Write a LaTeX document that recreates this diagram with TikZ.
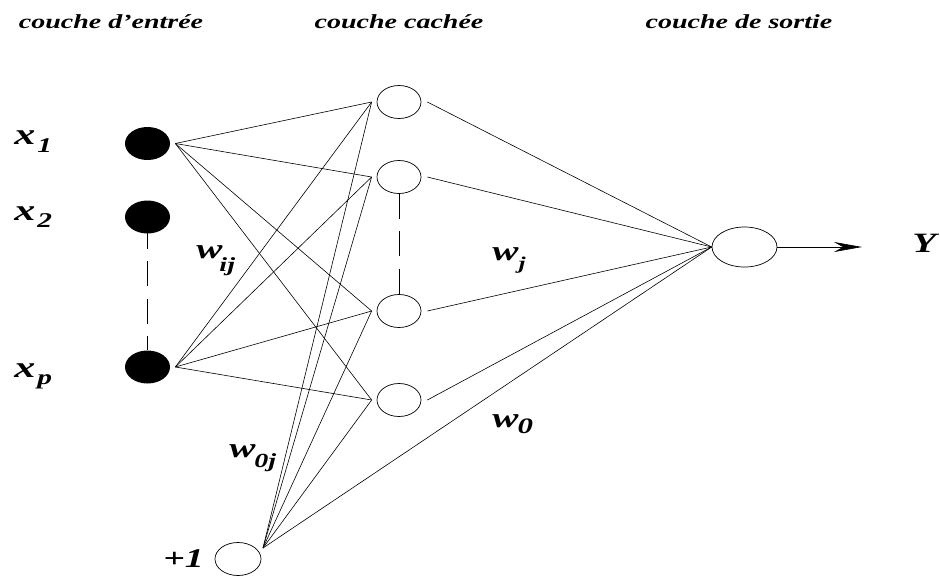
\documentclass[tikz,border=0pt]{standalone}
\usepackage{fontspec}
\newfontfamily\lf[FakeStretch=1.4]{Liberation Serif}
\usetikzlibrary{arrows.meta,shapes.geometric}
\newcommand\fsz[1]{\fontsize{#1}{#1}\selectfont}
\begin{document}
\begin{tikzpicture}[x=1pt,y=-1pt,line width=0.7pt,
  inpnode/.style={ellipse,fill=black,minimum width=45pt,minimum height=33pt,inner sep=0pt},
  hidnode/.style={ellipse,draw,minimum width=44pt,minimum height=33pt,inner sep=0pt},
  outnode/.style={ellipse,draw,minimum width=65pt,minimum height=40pt,inner sep=0pt},
  lab/.style={inner sep=0pt,anchor=base west,font=\lf\bfseries\itshape},
  toplab/.style={inner sep=0pt,anchor=base,font=\lf\bfseries\itshape\fsz{20}},
  conn/.style={line width=0.6pt},
  dashconn/.style={line width=0.8pt,dash pattern=on 25pt off 12.5pt}]
\useasboundingbox (0,0) rectangle (940,576);
% top labels
\node[toplab] (t1) at (111,28) {couche d’entrée};
\node[toplab] (t2) at (399,28) {couche cachée};
\node[toplab] (t3) at (739,28) {couche de sortie};
% input nodes
\node[inpnode] (in1) at (147.5,143.5) {};
\node[inpnode] (in2) at (147.5,217) {};
\node[inpnode] (inp) at (147.5,367) {};
% hidden nodes
\node[hidnode] (h1) at (399,102) {};
\node[hidnode] (h2) at (399,177) {};
\node[hidnode] (h3) at (399,311) {};
\node[hidnode] (h4) at (399,400) {};
% output and bias
\node[outnode] (out) at (744.5,247) {};
\node[hidnode,minimum width=46pt] (bias) at (238,559) {};
% connection points
\coordinate (in1o) at ([xshift=5pt]in1.east);
\coordinate (inpo) at ([xshift=5pt]inp.east);
\coordinate (biaso) at ([shift={(25,-11)}]bias.center);
\foreach \h in {h1,h2,h3,h4}{
  \coordinate (\h i) at ([xshift=-5pt]\h.west);
  \coordinate (\h o) at ([xshift=6pt]\h.east);
}
\coordinate (yend) at (862,247);
% connectors
\foreach \h in {h1,h2,h3,h4}{
  \draw[conn] (in1o) -- (\h i);
  \draw[conn] (inpo) -- (\h i);
  \draw[conn] (biaso) -- (\h i);
  \draw[conn] (\h o) -- (out.west);
}
\draw[conn] (biaso) -- (out.west);
\draw[conn,-{Stealth[length=28pt,width=10pt,inset=9pt]}] (out.east) -- (yend);
% dashed
\draw[dashconn] ([yshift=10pt]in2.south) -- (inp.north);
\draw[dashconn] (h2.south) -- (h3.north);
% labels
\node[lab] (lx1) at (14,144) {\fsz{30}x\kern2pt\raisebox{-8pt}{\fsz{21}1}};
\node[lab] (lx2) at (14,220) {\fsz{30}x\kern2pt\raisebox{-7pt}{\fsz{21}2}};
\node[lab] (lxp) at (14,377) {\fsz{30}x\kern2pt\raisebox{-7pt}{\fsz{21}p}};
\node[lab] (lwij) at (196,258) {\fsz{28}w\kern-3pt\raisebox{-13pt}{\fsz{20}ij}};
\node[lab] (lwj) at (492,260) {\fsz{28}w\kern0pt\raisebox{-9pt}{\fsz{18}j}};
\node[lab] (lw0) at (492,427) {\fsz{28}w\kern-1pt\raisebox{-6pt}{\fsz{22}0}};
\node[lab] (lw0j) at (229,457) {\fsz{28}w\kern-1pt\raisebox{-10pt}{\fsz{20}0j}};
\node[lab] (lb) at (163,567) {\fsz{27}+1};
\node[lab] (ly) at (912,252) {\fsz{28}Y};
\end{tikzpicture}
\end{document}
